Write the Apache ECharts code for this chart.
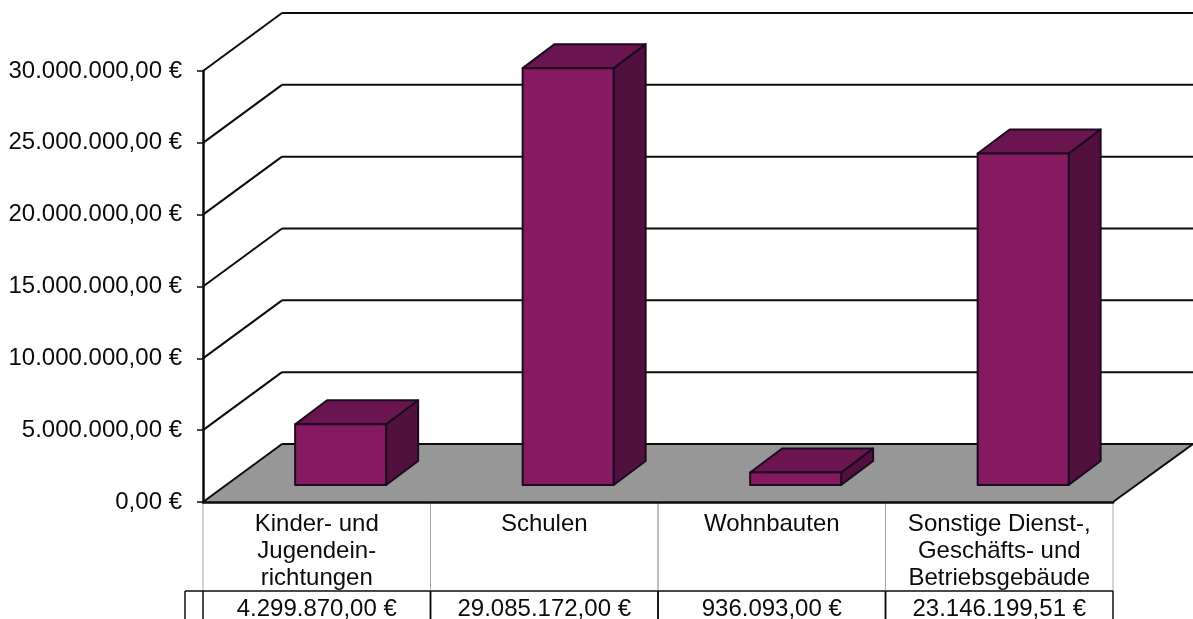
<!DOCTYPE html>
<html>
<head>
<meta charset="utf-8">
<style>html,body{margin:0;padding:0;background:#fff}#c{width:1193px;height:619px}</style>
<script src="https://cdn.jsdelivr.net/npm/echarts@6/dist/echarts.min.js"></script>
</head>
<body>
<div id="c"></div>
<script>
const categories = ["Kinder- und\nJugendein-\nrichtungen", "Schulen", "Wohnbauten", "Sonstige Dienst-,\nGeschäfts- und\nBetriebsgebäude"];
const values = [4299870, 29085172, 936093, 23146199.51];
const valueLabels = ["4.299.870,00 €", "29.085.172,00 €", "936.093,00 €", "23.146.199,51 €"];
const ticks = [0, 5000000, 10000000, 15000000, 20000000, 25000000, 30000000];
const tickLabels = ["0,00 €", "5.000.000,00 €", "10.000.000,00 €", "15.000.000,00 €", "20.000.000,00 €", "25.000.000,00 €", "30.000.000,00 €"];

const FONT = '"Liberation Sans", Arial, sans-serif';
const FS = 24;
const DX = 79, DY = -58;          // wall depth
const BDX = 32, BDY = -24;        // bar depth
const RIGHT = 1193;
const INK = '#0c0c0c';

const chart = echarts.init(document.getElementById('c'), null, {renderer: 'canvas'});

function line(x1, y1, x2, y2, color, w) {
  return {type: 'line', shape: {x1, y1, x2, y2}, style: {stroke: color, lineWidth: w}};
}

chart.setOption({
  animation: false,
  backgroundColor: '#ffffff',
  grid: {left: 203, right: 80, top: 71, bottom: 117, containLabel: false},
  xAxis: {
    type: 'category',
    data: categories,
    axisTick: {show: false},
    axisLine: {show: true, lineStyle: {color: INK, width: 2.5}},
    axisLabel: {interval: 0, margin: 9, color: INK, fontFamily: FONT, fontSize: FS, lineHeight: 27, verticalAlign: 'top'},
    z: 5
  },
  yAxis: {
    type: 'value',
    min: 0,
    max: 30000000,
    interval: 5000000,
    splitLine: {show: false},
    axisLine: {show: true, lineStyle: {color: INK, width: 2.5}},
    axisTick: {show: true, length: 6, lineStyle: {color: INK, width: 1.5}},
    axisLabel: {
      margin: 21,
      color: INK,
      fontFamily: FONT,
      fontSize: FS,
      padding: [8, 0, 0, 0],
      formatter: function (v) { return tickLabels[ticks.indexOf(v)]; }
    },
    z: 5
  },
  series: [
    {
      // floor
      type: 'custom',
      coordinateSystem: 'cartesian2d',
      silent: true,
      z: 1,
      data: [[0]],
      renderItem: function (params, api) {
        const g = params.coordSys;
        const y = api.coord([0, 0])[1], xl = g.x, xr = g.x + g.width;
        return {
          type: 'polygon',
          shape: {points: [[xl, y], [xl + DX, y + DY], [RIGHT, y + DY], [xr, y]]},
          style: {fill: '#979797'}
        };
      }
    },
    {
      // wall grid lines
      type: 'custom',
      coordinateSystem: 'cartesian2d',
      silent: true,
      z: 2,
      data: ticks.map(function (t) { return [0, t]; }),
      renderItem: function (params, api) {
        const g = params.coordSys;
        const y = api.coord([0, api.value(1)])[1], xl = g.x, xr = g.x + g.width;
        const children = [
          line(xl, y, xl + DX, y + DY, INK, 2),
          line(xl + DX, y + DY, RIGHT, y + DY, INK, 2)
        ];
        if (api.value(1) === 0) children.push(line(xr, y, RIGHT, y + DY, INK, 2));
        return {type: 'group', children};
      }
    },
    {
      // 3D bars
      type: 'custom',
      coordinateSystem: 'cartesian2d',
      silent: true,
      z: 3,
      data: values.map(function (v, i) { return [i, v]; }),
      renderItem: function (params, api) {
        const base = api.coord([api.value(0), 0]);
        const top = api.coord([api.value(0), api.value(1)]);
        const band = api.size([1, 0])[0];
        const w = 91, cx = base[0] + band * 0.105, yb = base[1] - 17, yt = top[1] - 16;
        const x0 = cx - w / 2, x1 = cx + w / 2;
        const st = {stroke: '#1c0a20', lineWidth: 2, lineJoin: 'round'};
        return {
          type: 'group',
          children: [
            {type: 'polygon', shape: {points: [[x1, yt], [x1 + BDX, yt + BDY], [x1 + BDX, yb + BDY], [x1, yb]]},
             style: Object.assign({fill: '#52103f'}, st)},
            {type: 'polygon', shape: {points: [[x0, yt], [x0 + BDX, yt + BDY], [x1 + BDX, yt + BDY], [x1, yt]]},
             style: Object.assign({fill: '#6a1450'}, st)},
            {type: 'rect', shape: {x: x0, y: yt, width: w, height: yb - yt},
             style: Object.assign({fill: '#861a60'}, st)}
          ]
        };
      }
    },
    {
      // data table below the plot
      type: 'custom',
      coordinateSystem: 'cartesian2d',
      silent: true,
      z: 4,
      data: valueLabels.map(function (s, i) { return [i, 0]; }),
      renderItem: function (params, api) {
        const i = api.value(0);
        const c = api.coord([i, 0]);
        const band = api.size([1, 0])[0];
        const xl = c[0] - band / 2, xr = c[0] + band / 2;
        const yTop = c[1], yRow = c[1] + 89, yEnd = 619;
        const children = [
          line(xl, yTop, xl, yRow, '#a8a8a8', 1),
          line(xr, yTop, xr, yRow, '#a8a8a8', 1),
          line(xl, yRow, xl, yEnd, INK, 1.5),
          line(xr, yRow, xr, yEnd, INK, 1.5),
          line(xl, yRow, xr, yRow, INK, 1.5),
          {type: 'text', style: {text: valueLabels[i], x: c[0], y: yRow + 18, align: 'center', verticalAlign: 'middle',
            fill: INK, font: FS + 'px ' + FONT}}
        ];
        if (i === 0) {
          children.push(line(xl - 18, yRow, xl, yRow, INK, 1.5));
          children.push(line(xl - 18, yRow, xl - 18, yEnd, INK, 1.5));
        }
        return {type: 'group', children};
      }
    }
  ]
});
</script>
</body>
</html>
